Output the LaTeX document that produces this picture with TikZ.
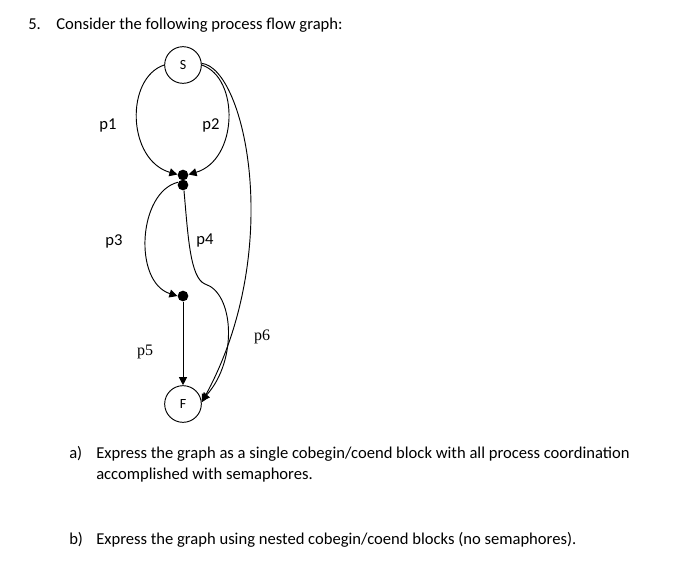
\documentclass[tikz,border=0pt]{standalone}
\usepackage{fontspec}
\setmainfont{Carlito}
\newfontfamily\serifp{Liberation Serif}
\usetikzlibrary{arrows.meta}
\begin{document}
\begin{tikzpicture}[x=0.75pt,y=-0.75pt,
  txt/.style={anchor=base west,inner sep=0pt,font=\fontsize{12.45}{15}\selectfont},
  lbl/.style={inner sep=0pt,font=\fontsize{12.45}{15}\selectfont},
  slbl/.style={inner sep=0pt,font=\serifp\fontsize{12}{14}\selectfont},
  term/.style={draw,circle,line width=0.7pt,minimum size=27.5pt,inner sep=0pt,font=\fontsize{10.5}{12}\selectfont},
  dot/.style={circle,fill,minimum size=8pt,inner sep=0pt},
  edge/.style={draw,line width=0.7pt},
  arr/.style={edge,-{Triangle[length=6pt,width=6pt]}}]
\useasboundingbox (0,0) rectangle (697,571);
% text
\node[txt] (n5) at (28,29) {5.};
\node[txt] (q) at (56,29) {Consider the following process flow graph:};
\node[txt] (na) at (69,458) {a)};
\node[txt] (qa1) at (96,458) {Express the graph as a single cobegin/coend block with all process coordination};
\node[txt] (qa2) at (96,479) {accomplished with semaphores.};
\node[txt] (nb) at (69,544) {b)};
\node[txt] (qb) at (96,544) {Express the graph using nested cobegin/coend blocks (no semaphores).};
% nodes
\node[term] (S) at (183,65) {S};
\node[term] (F) at (183,404) {F};
\node[dot] (d1) at (183,175) {};
\node[dot] (d2) at (183,185) {};
\node[dot] (d3) at (183,296) {};
% edges
\draw[arr] (S.180) .. controls (125,78) and (127,160) .. (d1.175);
\draw[arr] (S.0) .. controls (240,78) and (238,160) .. (d1.5);
\draw[arr] (d2.150) .. controls (138,192) and (133,282) .. (d3.180);
\draw[arr] (d3) -- (F);
\draw[edge] (d2.-80) .. controls (188,235) and (190,278) .. (205,284) coordinate (k);
\draw[arr] (k) .. controls (234,293) and (238,360) .. (F.10);
\draw[arr] (S.5) .. controls (245,68) and (285,250) .. (F.5);
% labels
\node[lbl] (l1) at (108,125) {p1};
\node[lbl] (l2) at (211,125) {p2};
\node[lbl] (l3) at (114,241) {p3};
\node[lbl] (l4) at (205,241) {p4};
\node[slbl] (l5) at (145,352) {p5};
\node[slbl] (l6) at (262,337) {p6};
\end{tikzpicture}
\end{document}
